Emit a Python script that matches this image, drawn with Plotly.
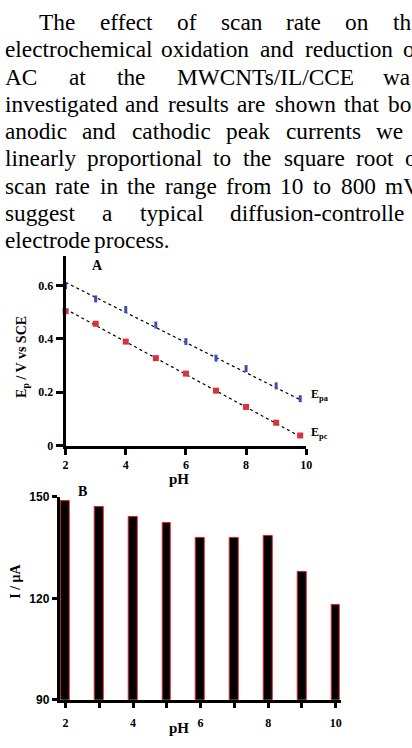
import plotly.graph_objects as go

# ---------------- data ----------------
ph_a = [2, 3, 4, 5, 6, 7, 8, 9, 9.8]
epa = [0.600, 0.550, 0.510, 0.452, 0.390, 0.328, 0.289, 0.224, 0.176]
epc = [0.504, 0.457, 0.390, 0.328, 0.270, 0.206, 0.145, 0.086, 0.038]
fit_x = [2, 9.8]
fit_epa = [0.612, 0.172]
fit_epc = [0.512, 0.034]

ph_b = [2, 3, 4, 5, 6, 7, 8, 9, 10]
current = [148.8, 147.1, 144.2, 142.2, 137.8, 137.9, 138.4, 127.7, 118.1]

a_yticks = [0, 0.2, 0.4, 0.6]
a_yticktext = ["0", "0.2", "0.4", "0.6"]
a_xticks = [2, 4, 6, 8, 10]
b_yticks = [90, 120, 150]
b_xticks = [2, 4, 6, 8, 10]

# paragraph text (the page is cropped at the right edge)
para_words = [
    ["The", "effect", "of", "scan", "rate", "on", "th"],
    ["electrochemical", "oxidation", "and", "reduction", "o"],
    ["AC", "at", "the", "MWCNTs/IL/CCE", "wa"],
    ["investigated", "and", "results", "are", "shown", "that", "bo"],
    ["anodic", "and", "cathodic", "peak", "currents", "we"],
    ["linearly", "proportional", "to", "the", "square", "root", "o"],
    ["scan", "rate", "in", "the", "range", "from", "10", "to", "800", "mV/"],
    ["suggest", "a", "typical", "diffusion-controlle"],
    ["electrode", "process."],
]
# layout of each line: (centre y px, first word x px, last word x px or None for natural spacing)
para_layout = [
    (15.5, 35, 396.7),
    (43, 0, 406.7),
    (71, 0, 386.7),
    (98.5, 0, 391.7),
    (126.5, 0, 379),
    (154, 0, 409),
    (182, 0, 388.3),
    (209.5, 0, 230),
    (237, 0, None),
]
FS = 23.3
# Times / Liberation Serif advance widths (1/1000 em)
TW = dict(a=444, b=500, c=444, d=500, e=444, f=333, g=500, h=500, i=278, j=278, k=500, l=278, m=778,
          n=500, o=500, p=500, q=500, r=333, s=389, t=278, u=500, v=500, w=722, x=500, y=500, z=444,
          A=722, C=667, E=611, I=333, L=611, M=889, N=722, S=556, T=611, V=722, W=944)
TW.update({d: 500 for d in "0123456789"})
TW.update({"/": 278, "-": 333, ".": 250, " ": 250})

def wwidth(word):
    return sum(TW.get(ch, 500) for ch in word) / 1000 * FS

W, H = 412, 748
def px(x):
    return x / W
def py(y):
    return 1 - y / H

SERIF = "Liberation Serif"
SANS = "Liberation Sans"

fig = go.Figure()

# ---- chart A ----
fig.add_trace(go.Scatter(x=fit_x, y=fit_epa, mode="lines", line=dict(color="black", dash="dot", width=1.2),
                         xaxis="x", yaxis="y", showlegend=False, hoverinfo="skip"))
fig.add_trace(go.Scatter(x=fit_x, y=fit_epc, mode="lines", line=dict(color="black", dash="dot", width=1.2),
                         xaxis="x", yaxis="y", showlegend=False, hoverinfo="skip"))
fig.add_trace(go.Scatter(x=ph_a, y=epa, mode="markers", cliponaxis=False,
                         marker=dict(symbol="line-ns", size=5, line=dict(color="#3f4fb0", width=3)),
                         xaxis="x", yaxis="y", showlegend=False))
fig.add_trace(go.Scatter(x=ph_a, y=epc, mode="markers", cliponaxis=False,
                         marker=dict(symbol="square", size=6, color="#d8323c"),
                         xaxis="x", yaxis="y", showlegend=False))

# ---- chart B ----
fig.add_trace(go.Bar(x=ph_b, y=current, width=0.26,
                     marker=dict(color="black", line=dict(color="#e0202a", width=1)),
                     xaxis="x2", yaxis="y2", showlegend=False))

axis_common = dict(showline=True, linecolor="black", linewidth=3, ticks="outside", tickwidth=3,
                   tickcolor="black", showgrid=False, zeroline=False)

fig.update_layout(
    width=W, height=H, margin=dict(l=0, r=0, t=0, b=0),
    paper_bgcolor="white", plot_bgcolor="white",
    xaxis=dict(domain=[px(64), px(310)], range=[2, 10], tickvals=a_xticks, ticklen=6,
               tickfont=dict(family=SERIF, size=12, color="black", weight="bold"), anchor="y",
               **axis_common),
    yaxis=dict(domain=[py(447), py(254)], range=[0, 0.71], tickvals=a_yticks, ticktext=a_yticktext,
               ticklen=7, tickfont=dict(family=SERIF, size=12, color="black", weight="bold"), anchor="x",
               **axis_common),
    xaxis2=dict(domain=[px(58), px(346)], range=[1.83, 10.17], tickvals=b_xticks,
                ticklen=5, ticklabelstandoff=5,
                minor=dict(dtick=1, tick0=0, ticks="outside", ticklen=5, tickwidth=3, tickcolor="black",
                           showgrid=False),
                tickfont=dict(family=SERIF, size=12, color="black", weight="bold"), anchor="y2",
                **axis_common),
    yaxis2=dict(domain=[py(706), py(499.3)], range=[90, 150], tickvals=b_yticks, ticklen=5,
                tickfont=dict(family=SANS, size=12, color="black", weight="bold"), anchor="x2",
                **axis_common),
    bargap=0,
)

ann = []
space = TW[" "] / 1000 * FS
for words, (yc, x0, xlast) in zip(para_words, para_layout):
    widths = [wwidth(w) for w in words]
    if xlast is None or len(words) < 2:
        gap = space
    else:
        gap = (xlast - x0 - sum(widths[:-1])) / (len(words) - 1)
    x = x0
    for w, wd in zip(words, widths):
        ann.append(dict(text=w, x=px(x), y=py(yc), xref="paper", yref="paper", xanchor="left",
                        yanchor="middle", showarrow=False,
                        font=dict(family=SERIF, size=FS, color="black")))
        x += wd + gap

def label(text, x, y, size, angle=0, xanchor="center", family=SERIF):
    ann.append(dict(text=text, x=px(x), y=py(y), xref="paper", yref="paper", xanchor=xanchor,
                    yanchor="middle", showarrow=False, textangle=angle,
                    font=dict(family=family, size=size, color="black", weight="bold")))

label("A", 96.7, 263, 14)
label("E<sub>p</sub> / V vs SCE", 20, 357, 14, angle=-90)
label("pH", 180, 481.5, 15)
label("E<sub>pa</sub>", 313, 395, 12, xanchor="left")
label("E<sub>pc</sub>", 313, 434.5, 12, xanchor="left")
label("B", 81.7, 493.5, 14)
label("I / μA", 12, 585, 14, angle=-90)
label("pH", 180, 735, 15)

fig.update_layout(annotations=ann)
fig.write_html("out.html")
